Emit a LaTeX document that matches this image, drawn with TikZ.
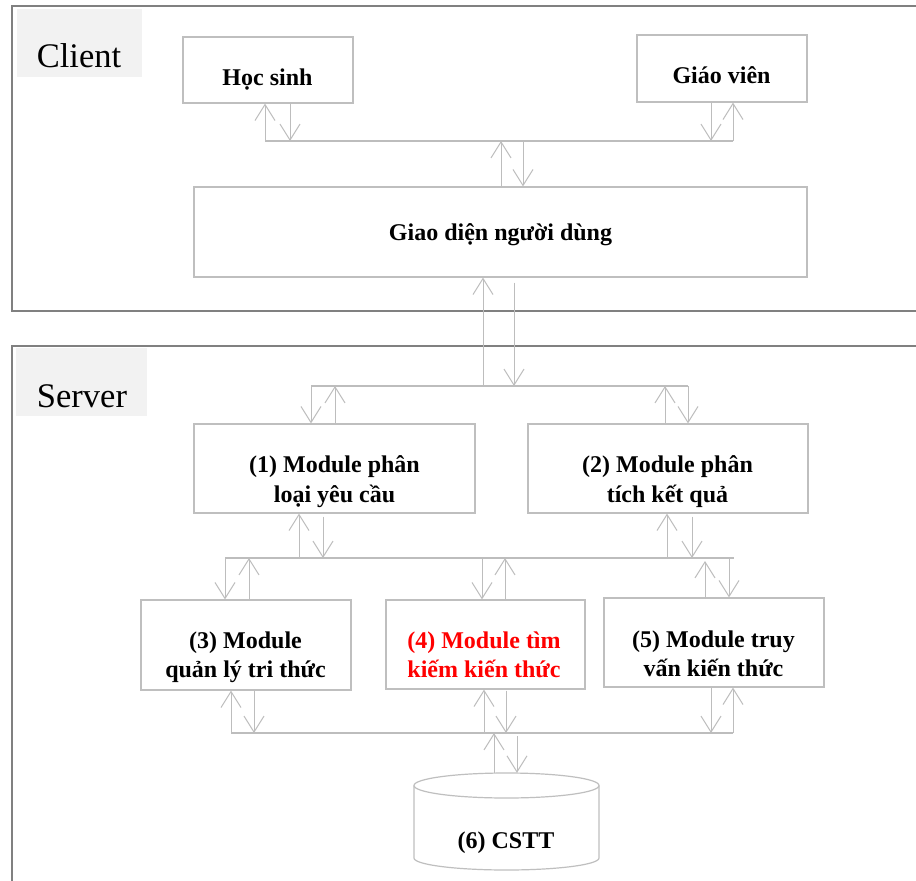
\documentclass[tikz,border=0pt]{standalone}
\usepackage{fontspec}
\setmainfont{Liberation Serif}
\usetikzlibrary{arrows.meta,calc}
\definecolor{framegray}{HTML}{808080}
\definecolor{boxgray}{HTML}{BFBFBF}
\definecolor{arrgray}{HTML}{BDBDBD}
\definecolor{labelbg}{HTML}{F2F2F2}
\tikzset{
  frame/.style={draw=framegray, line width=2.4pt},
  box/.style={draw=boxgray, line width=1.2pt, inner sep=0pt, rectangle},
  bus/.style={draw=arrgray, line width=1.1pt},
  arr/.style={draw=arrgray, line width=1pt, -{Straight Barb[length=16pt,width=20pt]}},
  txt/.style={font=\fontsize{24}{29}\selectfont\bfseries, inner sep=0pt, anchor=base},
  bigtxt/.style={font=\fontsize{34.5}{40}\selectfont, inner sep=0pt, anchor=base},
}
\begin{document}
\begin{tikzpicture}[x=1pt,y=-1pt]
\useasboundingbox (0,0) rectangle (916,881);
\clip (0,0) rectangle (916,881);
\fill[white] (0,0) rectangle (916,881);

% frames
\draw[frame] (12,6) rectangle (960,311);
\draw[frame] (12,346) rectangle (960,920);
\fill[labelbg] (17,9) rectangle (142,77);
\node[bigtxt] (client) at (79,67) {Client};
\fill[labelbg] (16,348) rectangle (147,416);
\node[bigtxt] (server) at (82,407) {Server};

% boxes
\node[box, minimum width=170, minimum height=66] (hs) at (268,70) {};
\node[box, minimum width=170, minimum height=67] (gv) at (722,68.5) {};
\node[box, minimum width=613, minimum height=90] (gd) at (500.5,232) {};
\node[box, minimum width=281, minimum height=89] (m1) at (334.5,468.5) {};
\node[box, minimum width=280, minimum height=89] (m2) at (668,468.5) {};
\node[box, minimum width=210, minimum height=90] (m3) at (246,645) {};
\node[box, minimum width=199, minimum height=89] (m4) at (485.5,644.5) {};
\node[box, minimum width=220, minimum height=89] (m5) at (714,642.5) {};
\node[inner sep=0pt, minimum width=185, minimum height=97] (db) at (506.5,821.5) {};

% cylinder
\draw[draw=boxgray, line width=1.2pt] (414,785.5) -- (414,858)
  arc[start angle=180, end angle=0, x radius=92.5, y radius=12] -- (599,785.5);
\draw[draw=boxgray, line width=1.2pt] (506.5,785.5) ellipse [x radius=92.5, y radius=12.5];

% texts
\node[txt] (ths) at (267.5,85) {Học sinh};
\node[txt] (tgv) at (721.5,83) {Giáo viên};
\node[txt] (tgd) at (500.5,240) {Giao diện người dùng};
\node[txt] (t1a) at (334.5,472) {(1) Module phân};
\node[txt] (t1b) at (334.5,502) {loại yêu cầu};
\node[txt] (t2a) at (667.5,472) {(2) Module phân};
\node[txt] (t2b) at (667.5,502) {tích kết quả};
\node[txt] (t3a) at (245.5,648) {(3) Module};
\node[txt] (t3b) at (245.5,677) {quản lý tri thức};
\node[txt, text=red] (t4a) at (484,648) {(4) Module tìm};
\node[txt, text=red] (t4b) at (484,677) {kiếm kiến thức};
\node[txt] (t5a) at (713.5,647) {(5) Module truy};
\node[txt] (t5b) at (713.5,676) {vấn kiến thức};
\node[txt] (t6) at (506,848) {(6) CSTT};

% client bus
\coordinate (a1) at (265,141);
\coordinate (a2) at (290,141);
\coordinate (a3) at (501,141);
\coordinate (a4) at (523,141);
\coordinate (a5) at (711,141);
\coordinate (a6) at (733,141);
\draw[bus] (a1) -- (a6);
\draw[arr] (a1) -- (a1 |- hs.south);
\draw[arr] (a2 |- hs.south) -- (a2);
\draw[arr] (a3 |- gd.north) -- (a3);
\draw[arr] (a4) -- (a4 |- gd.north);
\draw[arr] (a5 |- gv.south) -- (a5);
\draw[arr] (a6) -- (a6 |- gv.south);

% bus 1
\coordinate (b1) at (311,386);
\coordinate (b2) at (335,386);
\coordinate (b3) at (483,386);
\coordinate (b4) at (514,386);
\coordinate (b5) at (665,386);
\coordinate (b6) at (688,386);
\draw[bus] (b1) -- (b6);
\draw[arr] (b1) -- (b1 |- m1.north);
\draw[arr] (b2 |- m1.north) -- (b2);
\draw[arr] (b3) -- (b3 |- gd.south);
\draw[arr] ($(b4 |- gd.south)+(0,5)$) -- (b4);
\draw[arr] (b5 |- m2.north) -- (b5);
\draw[arr] (b6) -- (b6 |- m2.north);

% bus 2
\coordinate (c1) at (225,558);
\coordinate (c2) at (249,558);
\coordinate (c3) at (299,558);
\coordinate (c4) at (323,558);
\coordinate (c5) at (482,558);
\coordinate (c6) at (505,558);
\coordinate (c7) at (667,558);
\coordinate (c8) at (692,558);
\coordinate (c9) at (705,558);
\coordinate (c10) at (729,558);
\coordinate (c11) at (734,558);
\draw[bus] (c1) -- (c11);
\draw[arr] (c1) -- (c1 |- m3.north);
\draw[arr] (c2 |- m3.north) -- (c2);
\draw[arr] (c3) -- (c3 |- m1.south);
\draw[arr] ($(c4 |- m1.south)+(0,3)$) -- (c4);
\draw[arr] (c5) -- (c5 |- m4.north);
\draw[arr] (c6 |- m4.north) -- (c6);
\draw[arr] (c7) -- (c7 |- m2.south);
\draw[arr] ($(c8 |- m2.south)+(0,3)$) -- (c8);
\draw[arr] (c9 |- m5.north) -- ($(c9)+(0,3)$);
\draw[arr] (c10) -- (c10 |- m5.north);

% bus 3
\coordinate (d1) at (231,733);
\coordinate (d2) at (254,733);
\coordinate (d3) at (484,733);
\coordinate (d4) at (494,733);
\coordinate (d5) at (506,733);
\coordinate (d6) at (517,733);
\coordinate (d7) at (711,733);
\coordinate (d8) at (733,733);
\draw[bus] (d1) -- (d8);
\draw[arr] (d1) -- (d1 |- m3.south);
\draw[arr] (d2 |- m3.south) -- (d2);
\draw[arr] (d3) -- (d3 |- m4.south);
\draw[arr] ($(d5 |- m4.south)+(0,1)$) -- (d5);
\draw[arr] (d7 |- m5.south) -- (d7);
\draw[arr] (d8) -- (d8 |- m5.south);
\draw[arr] (d4 |- db.north) -- (d4);
\draw[arr] ($(d6)+(0,3)$) -- (d6 |- db.north);
\end{tikzpicture}
\end{document}
